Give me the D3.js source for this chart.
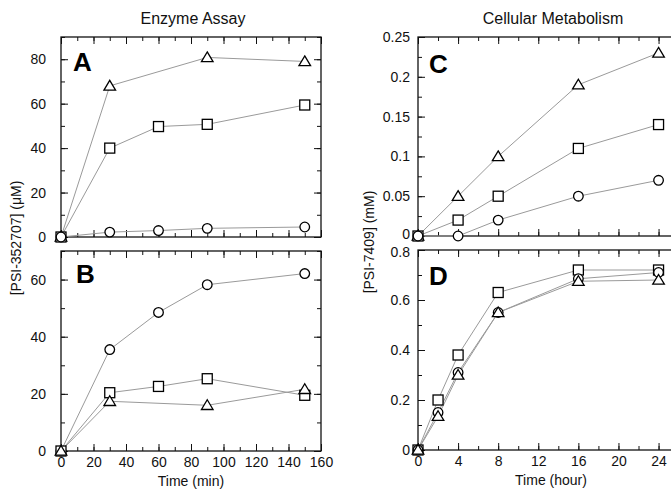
<!DOCTYPE html>
<html><head><meta charset="utf-8">
<script src="https://cdn.jsdelivr.net/npm/d3@7"></script>
<style>body{margin:0;background:#fff}svg{display:block;font-family:"Liberation Sans",Arial,sans-serif}</style>
</head><body><svg id="c" width="671" height="492"></svg>
<script>
// Enzyme assay (panels A, B): time in min
const timeMin = [0, 30, 60, 90, 150];
const aTriangle = [[0,0],[30,68],[90,80.8],[150,79]];
const aSquare   = [[0,0],[30,40],[60,49.7],[90,50.7],[150,59.4]];
const aCircle   = [[0,0],[30,2.2],[60,2.9],[90,3.9],[150,4.5]];
const bCircle   = [[0,0],[30,35.5],[60,48.5],[90,58.2],[150,62.1]];
const bSquare   = [[0,0],[30,20.4],[60,22.6],[90,25.3],[150,19.5]];
const bTriangle = [[0,0],[30,17.4],[90,16],[150,21.6]];
// Cellular metabolism (panels C, D): time in hours
const cTriangle = [[0,0],[4,0.05],[8,0.10],[16,0.19],[24,0.23]];
const cSquare   = [[0,0],[4,0.02],[8,0.05],[16,0.11],[24,0.14]];
const cCircle   = [[0,0],[4,0],[8,0.02],[16,0.05],[24,0.07]];
const dSquare   = [[0,0],[2,0.20],[4,0.38],[8,0.63],[16,0.72],[24,0.72]];
const dCircle   = [[0,0],[2,0.15],[4,0.31],[8,0.55],[16,0.685],[24,0.71]];
const dTriangle = [[0,0],[2,0.135],[4,0.30],[8,0.55],[16,0.675],[24,0.68]];
// tick labels
const ticksMinX = [0,20,40,60,80,100,120,140,160];
const ticksHourX = [0,4,8,12,16,20,24];
const ticksAY = [0,20,40,60,80];
const ticksBY = [0,20,40,60];
const ticksCY = [0,0.05,0.1,0.15,0.2,0.25];
const ticksDY = [0,0.2,0.4,0.6,0.8];

const svg = d3.select("#c");
const LINE = "#9a9a9a";
const FONT = "Liberation Sans, Arial, sans-serif";

function panel(o){
  const g = svg.append("g");
  const x = d3.scaleLinear().domain(o.xd).range(o.xr);
  const y = d3.scaleLinear().domain(o.yd).range(o.yr);
  const [x0,x1] = o.xr, [y0,y1] = [o.yr[1], o.yr[0]];
  const minorX = d3.range(o.xd[0], o.xd[1]+1e-9, o.xMinor);
  const minorY = d3.range(o.yd[0], o.yd[1]+1e-9, o.yMinor);
  const mk = (ax, vals, size, fmt) => ax.tickValues(vals).tickSize(size).tickSizeOuter(0).tickFormat(fmt);
  function axes(axf, sc, transform, majors, minors, showLabels, pad, shift){
    const ga = g.append("g").attr("transform", transform).call(mk(axf(sc), minors, -4, ""));
    ga.select(".domain").remove();
    const gb = g.append("g").attr("transform", transform)
      .call(mk(axf(sc), majors, -7, showLabels ? (o.fmt && axf===d3.axisLeft ? o.fmt : d3.format("")) : "").tickPadding(pad||6));
    gb.select(".domain").remove();
    gb.selectAll("text").attr("font-size", 14).attr("fill","#111").attr("font-family",FONT);
    if (shift) gb.selectAll("text").attr("transform", d => shift[d] ? `translate(0,${shift[d]})` : null);
    ga.selectAll("line").attr("stroke","#111");
    gb.selectAll("line").attr("stroke","#111");
  }
  axes(d3.axisLeft, y, `translate(${x0},0)`, o.yTicks, minorY, true, o.yPad, o.shift);
  axes(d3.axisRight, y, `translate(${x1},0)`, o.yTicks, minorY, false);
  axes(d3.axisBottom, x, `translate(0,${y1})`, o.xTicks, minorX, o.xLabels, 6);
  axes(d3.axisTop, x, `translate(0,${y0})`, o.xTicks, minorX, false);
  g.append("rect").attr("x",x0).attr("y",y0).attr("width",x1-x0).attr("height",y1-y0)
    .attr("fill","none").attr("stroke","#111").attr("stroke-width",1.3);
  g.append("text").attr("x",o.letter[0]).attr("y",o.letter[1]).text(o.name)
    .attr("font-size",26).attr("font-weight","bold").attr("font-family",FONT);
  const line = d3.line().x(d=>x(d[0])).y(d=>y(d[1]));
  o.series.forEach(s => g.append("path").attr("d", line(s.data)).attr("fill","none").attr("stroke",LINE).attr("stroke-width",1));
  o.series.forEach(s => {
    s.data.forEach(d => {
      const cx = x(d[0]), cy = y(d[1]);
      let el;
      if (s.shape==="square") el = g.append("rect").attr("x",cx-5).attr("y",cy-5).attr("width",10).attr("height",10);
      else if (s.shape==="circle") el = g.append("circle").attr("cx",cx).attr("cy",cy).attr("r",4.8);
      else el = g.append("path").attr("d",`M${cx},${cy-5.5}L${cx+5.8},${cy+4.2}L${cx-5.8},${cy+4.2}Z`);
      el.attr("fill","#fff").attr("stroke","#000").attr("stroke-width",1.3);
    });
  });
}

panel({name:"A", letter:[73,71], xd:[0,160], xr:[61,321], yd:[0,90], yr:[237,37],
  xTicks:ticksMinX, yTicks:ticksAY, xMinor:10, yMinor:10, xLabels:false, yPad:15,
  series:[{shape:"triangle",data:aTriangle},{shape:"square",data:aSquare},{shape:"circle",data:aCircle}]});
panel({name:"B", letter:[76,283], xd:[0,160], xr:[61,321], yd:[0,70], yr:[451,251],
  xTicks:ticksMinX, yTicks:ticksBY, xMinor:10, yMinor:10, xLabels:true, yPad:15,
  series:[{shape:"circle",data:bCircle},{shape:"square",data:bSquare},{shape:"triangle",data:bTriangle}]});
panel({name:"C", letter:[429,73], xd:[0,26], xr:[418,678.6], yd:[0,0.25], yr:[236,37],
  xTicks:ticksHourX, yTicks:ticksCY, xMinor:2, yMinor:0.025, xLabels:false, yPad:8,
  shift:{0:-1.5},
  fmt: d=> d===0 ? "0" : d3.format("")(+d.toFixed(3)),
  series:[{shape:"triangle",data:cTriangle},{shape:"square",data:cSquare},{shape:"circle",data:cCircle}]});
panel({name:"D", letter:[429,285], xd:[0,26], xr:[418,678.6], yd:[0,0.8], yr:[450,250],
  xTicks:ticksHourX, yTicks:ticksDY, xMinor:2, yMinor:0.1, xLabels:true, yPad:8,
  shift:{0.8:2},
  fmt: d=> d===0 ? "0" : d3.format("")(+d.toFixed(2)),
  series:[{shape:"square",data:dSquare},{shape:"circle",data:dCircle},{shape:"triangle",data:dTriangle}]});

const txt = (x,y,s,size,rot) => {
  const t = svg.append("text").attr("x",x).attr("y",y).attr("text-anchor","middle")
    .attr("font-size",size).attr("fill","#111").attr("font-family",FONT).text(s);
  if (rot) t.attr("transform",`rotate(-90,${x},${y})`);
};
txt(193,24,"Enzyme Assay",16);
txt(553,24,"Cellular Metabolism",16);
txt(191,486,"Time (min)",14);
txt(551,485,"Time (hour)",14);
txt(21,238,"[PSI-352707] (\u03bcM)",14,true);
txt(374,242,"[PSI-7409] (mM)",14,true);
</script></body></html>
